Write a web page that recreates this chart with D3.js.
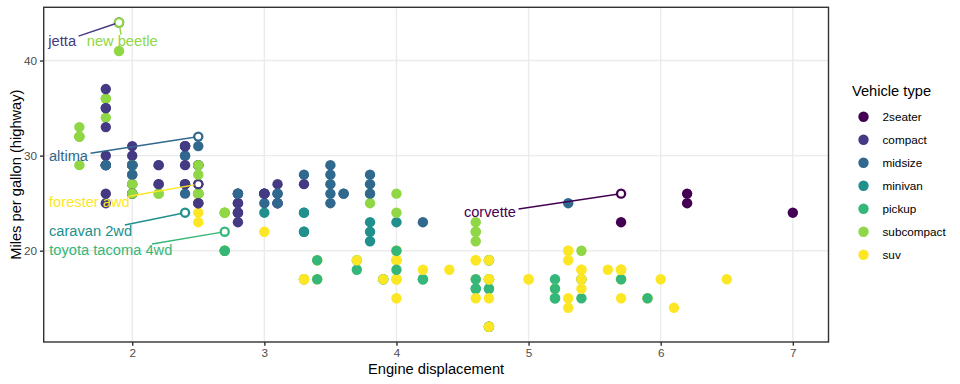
<!DOCTYPE html>
<html><head><meta charset="utf-8">
<script src="https://cdn.jsdelivr.net/npm/d3@7"></script>
<style>
body{margin:0;background:#fff}
svg text{font-family:"Liberation Sans",Arial,Helvetica,sans-serif}
</style>
</head><body>
<svg id="chart" width="960" height="384"></svg>
<script>
// ---------------- DATA ----------------
const classes = ["2seater","compact","midsize","minivan","pickup","subcompact","suv"];
const classColors = ["#440154","#443A83","#31688E","#21908C","#35B779","#8FD744","#FDE725"];

// mpg rows in order: engine displacement, highway mpg, class index
const displ = [1.8,1.8,2.0,2.0,2.8,2.8,3.1,1.8,1.8,2.0,2.0,2.8,2.8,3.1,3.1,2.8,3.1,4.2,5.3,5.3,
5.3,5.7,6.0,5.7,5.7,6.2,6.2,7.0,5.3,5.3,5.7,6.5,2.4,2.4,3.1,3.5,3.6,2.4,3.0,3.3,
3.3,3.3,3.3,3.3,3.8,3.8,3.8,4.0,3.7,3.7,3.9,3.9,4.7,4.7,4.7,5.2,5.2,3.9,4.7,4.7,
4.7,5.2,5.7,5.9,4.7,4.7,4.7,4.7,4.7,4.7,5.2,5.2,5.7,5.9,4.6,5.4,5.4,4.0,4.0,4.0,
4.0,4.6,5.0,4.2,4.2,4.6,4.6,4.6,5.4,5.4,3.8,3.8,4.0,4.0,4.6,4.6,4.6,4.6,5.4,1.6,
1.6,1.6,1.6,1.6,1.8,1.8,1.8,2.0,2.4,2.4,2.4,2.4,2.5,2.5,3.3,2.0,2.0,2.0,2.0,2.7,
2.7,2.7,3.0,3.7,4.0,4.7,4.7,4.7,5.7,6.1,4.0,4.2,4.4,4.6,5.4,5.4,5.4,4.0,4.0,4.6,
5.0,2.4,2.4,2.5,2.5,3.5,3.5,3.0,3.0,3.5,3.3,3.3,4.0,5.6,3.1,3.8,3.8,3.8,5.3,2.5,
2.5,2.5,2.5,2.5,2.5,2.2,2.2,2.5,2.5,2.5,2.5,2.5,2.5,2.7,2.7,3.4,3.4,4.0,4.7,2.2,
2.2,2.4,2.4,3.0,3.0,3.5,2.2,2.2,2.4,2.4,3.0,3.0,3.3,1.8,1.8,1.8,1.8,1.8,4.7,5.7,
2.7,2.7,2.7,3.4,3.4,4.0,4.0,2.0,2.0,2.0,2.0,2.8,1.9,2.0,2.0,2.0,2.0,2.5,2.5,2.8,
2.8,1.9,1.9,2.0,2.0,2.5,2.5,1.8,1.8,2.0,2.0,2.8,2.8,3.6];
const hwy = [29,29,31,30,26,26,27,26,25,28,27,25,25,25,25,24,25,23,20,15,
20,17,17,26,23,26,25,24,19,14,15,17,27,30,26,29,26,24,24,22,
22,24,24,17,22,21,23,23,19,18,17,17,19,19,12,17,15,17,17,12,
17,16,18,15,16,12,17,17,16,12,15,16,17,15,17,17,18,17,19,17,
19,19,17,17,17,16,16,17,15,17,26,25,26,24,21,22,23,22,20,33,
32,32,29,32,34,36,36,29,26,27,30,31,26,26,28,26,29,28,27,24,
24,24,22,19,20,17,12,19,18,14,15,18,18,15,17,16,18,17,19,19,
17,29,27,31,32,27,26,26,25,25,17,17,20,18,26,26,27,28,25,25,
24,27,25,26,23,26,26,26,26,25,27,25,27,20,20,19,17,20,17,29,
27,31,31,26,26,28,27,29,31,31,26,26,27,30,33,35,37,35,15,18,
20,20,22,17,19,18,20,29,26,29,29,24,44,29,26,29,29,29,29,23,
24,44,41,29,26,28,29,29,29,28,29,26,26,26];
const cls = [1,1,1,1,1,1,1,1,1,1,1,1,1,1,1,2,2,2,6,6,
6,6,6,0,0,0,0,0,6,6,6,6,2,2,2,2,2,3,3,3,
3,3,3,3,3,3,3,3,4,4,4,4,4,4,4,4,4,6,6,6,
6,6,6,6,4,4,4,4,4,4,4,4,4,4,6,6,6,6,6,6,
6,6,6,4,4,4,4,4,4,4,5,5,5,5,5,5,5,5,5,5,
5,5,5,5,5,5,5,5,2,2,2,2,2,2,2,5,5,5,5,5,
5,5,6,6,6,6,6,6,6,6,6,6,6,6,6,6,6,6,6,6,
6,1,1,2,2,2,2,2,2,2,6,6,6,6,2,2,2,2,2,6,
6,6,6,6,6,5,5,5,5,1,1,1,1,6,6,6,6,6,6,2,
2,2,2,2,2,2,1,1,1,1,1,1,1,1,1,1,1,1,6,6,
4,4,4,4,4,4,4,1,1,1,1,1,1,1,1,1,1,1,1,1,
1,5,5,5,5,5,5,2,2,2,2,2,2,2];

// best-in-class model names (highest hwy per class, first occurrence)
const bestModels = [
  {cls:"2seater", model:"corvette"},
  {cls:"compact", model:"jetta"},
  {cls:"midsize", model:"altima"},
  {cls:"minivan", model:"caravan 2wd"},
  {cls:"pickup", model:"toyota tacoma 4wd"},
  {cls:"subcompact", model:"new beetle"},
  {cls:"suv", model:"forester awd"}
];

const xTicks = [2,3,4,5,6,7];
const yTicks = [20,30,40];

// ---------------- LAYOUT (repelled label offsets, px from point) ----------------
const labelOffsets = {
  "corvette":[-131.1,19.6], "jetta":[-56.8,19.2], "altima":[-129.8,20.1],
  "caravan 2wd":[-94.5,19.3], "toyota tacoma 4wd":[-113.9,19.3],
  "new beetle":[3.2,19.2], "forester awd":[-108.9,19.1]
};

const W=960,H=384;
const P={l:43.7,r:828.5,t:7.3,b:342};
const svg=d3.select("#chart");
svg.append("rect").attr("width",W).attr("height",H).attr("fill","#fff");

const rows = displ.map((d,i)=>({x:d,y:hwy[i],c:cls[i],i}));
const xe=d3.extent(displ), ye=d3.extent(hwy);
const xpad=(xe[1]-xe[0])*0.05, ypad=(ye[1]-ye[0])*0.05;
const x=d3.scaleLinear().domain([xe[0]-xpad,xe[1]+xpad]).range([P.l,P.r]);
const y=d3.scaleLinear().domain([ye[0]-ypad,ye[1]+ypad]).range([P.b,P.t]);
const color=d3.scaleOrdinal().domain(classes).range(classColors);

// grid
const g=svg.append("g");
g.selectAll(".gx").data(xTicks).join("line")
  .attr("x1",d=>x(d)).attr("x2",d=>x(d)).attr("y1",P.t).attr("y2",P.b)
  .attr("stroke","#EBEBEB").attr("stroke-width",1.42);
g.selectAll(".gy").data(yTicks).join("line")
  .attr("y1",d=>y(d)).attr("y2",d=>y(d)).attr("x1",P.l).attr("x2",P.r)
  .attr("stroke","#EBEBEB").attr("stroke-width",1.42);

// points
const pts=svg.append("g");
pts.selectAll("circle").data(rows).join("circle")
  .attr("cx",d=>x(d.x)).attr("cy",d=>y(d.y)).attr("r",5.2)
  .attr("fill",d=>classColors[d.c]);

// best in class
const best = bestModels.map(b=>{
  const ci=classes.indexOf(b.cls);
  const sub=rows.filter(r=>r.c===ci);
  const mx=d3.max(sub,r=>r.y);
  const r=sub.find(r=>r.y===mx);
  return {...r, model:b.model, col:classColors[ci]};
});
pts.selectAll(".hi").data(best).join("circle")
  .attr("cx",d=>x(d.x)).attr("cy",d=>y(d.y)).attr("r",2.9).attr("fill","#fff");

// labels & segments
const lab=svg.append("g");
best.forEach(d=>{
  const px=x(d.x), py=y(d.y);
  const off=labelOffsets[d.model];
  const cx=px+off[0], cy=py+off[1];
  const t=lab.append("text").attr("x",cx).attr("y",cy+4.2).attr("text-anchor","middle")
    .attr("font-size",14.67).attr("fill",d.col).text(d.model);
  const w=t.node().getComputedTextLength();
  const hw=w/2+2.5, hh=7;
  const dx=px-cx, dy=py-cy;
  const s=Math.min(Math.abs(dx)>0?hw/Math.abs(dx):Infinity, Math.abs(dy)>0?hh/Math.abs(dy):Infinity);
  const sx=cx+dx*s, sy=cy+dy*s;
  const L=Math.hypot(px-sx,py-sy);
  const ex=px-(px-sx)/L*4, ey=py-(py-sy)/L*4;
  lab.insert("line","text").attr("x1",sx).attr("y1",sy).attr("x2",ex).attr("y2",ey)
    .attr("stroke",d.col).attr("stroke-width",1.42);
});

// panel border
svg.append("rect").attr("x",P.l).attr("y",P.t).attr("width",P.r-P.l).attr("height",P.b-P.t)
  .attr("fill","none").attr("stroke","#333333").attr("stroke-width",1.42);

// axes
const ax=svg.append("g").attr("transform",`translate(0,${P.b})`)
  .call(d3.axisBottom(x).tickValues(xTicks).tickSize(3.67).tickPadding(2.9).tickFormat(d3.format("d")));
const ay=svg.append("g").attr("transform",`translate(${P.l},0)`)
  .call(d3.axisLeft(y).tickValues(yTicks).tickSize(3.67).tickPadding(2.9).tickFormat(d3.format("d")));
[ax,ay].forEach(a=>{
  a.select(".domain").remove();
  a.selectAll(".tick line").attr("stroke","#333333").attr("stroke-width",1.42);
  a.selectAll(".tick text").attr("fill","#4D4D4D").attr("font-size",11.73)
   .attr("font-family",'"Liberation Sans",Arial,sans-serif');
});

svg.append("text").attr("x",(P.l+P.r)/2).attr("y",374).attr("text-anchor","middle")
  .attr("font-size",14.67).attr("fill","#000").text("Engine displacement");
svg.append("text").attr("transform",`translate(20.5,${(P.t+P.b)/2}) rotate(-90)`)
  .attr("text-anchor","middle").attr("font-size",14.67).attr("fill","#000")
  .text("Miles per gallon (highway)");

// legend
const lg=svg.append("g");
lg.append("text").attr("x",852).attr("y",95.5).attr("font-size",14.67).attr("fill","#000").text("Vehicle type");
const items=lg.selectAll(".it").data(classes).join("g")
  .attr("transform",(d,i)=>`translate(863.5,${116.7+i*23})`);
items.append("circle").attr("r",5.2).attr("fill",d=>color(d));
items.append("text").attr("x",19).attr("y",4.2).attr("font-size",11.73).attr("fill","#000").text(d=>d);
</script>
</body></html>
